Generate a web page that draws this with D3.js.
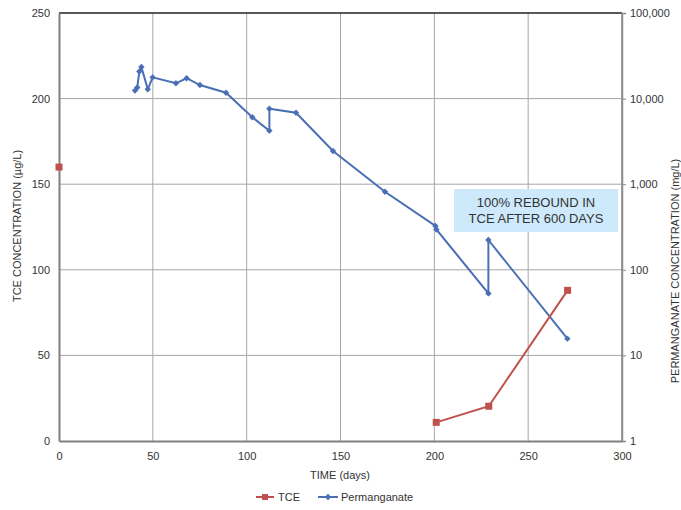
<!DOCTYPE html>
<html>
<head>
<meta charset="utf-8">
<script src="https://cdn.jsdelivr.net/npm/d3@7"></script>
<style>
  body { margin: 0; background: #fff; }
  svg text { font-family: "Liberation Sans", Arial, sans-serif; fill: #333; }
</style>
</head>
<body>
<svg id="chart" width="681" height="510"></svg>
<script>
// TCE series (left axis, ug/L)
var tceDays = [0, 201, 229, 271];
var tceVals = [160, 10.9, 20.3, 88];

// Permanganate series (right axis, mg/L, log)
var kmnDays = [40.5, 41.7, 42.8, 43.9, 47.3, 49.9, 62.3, 68, 75.1, 89, 103, 112.1, 112.1, 126.3, 146, 173.7, 200.6, 201.1, 228.8, 228.8, 270.9];
var kmnVals = [12400, 13500, 20700, 23400, 12850, 17700, 15100, 17300, 14400, 11700, 6050, 4220, 7620, 6840, 2440, 817, 325, 296, 53, 223, 15.7];

var xTicks = [0, 50, 100, 150, 200, 250, 300];
var leftTicks = [0, 50, 100, 150, 200, 250];
var rightTicks = [1, 10, 100, 1000, 10000, 100000];

var tceColor = "#c0504d", kmnColor = "#4a6fb5";

var svg = d3.select("#chart");
// note: "top" is taken by window.top, so plot edges get their own names
var pL = 59, pR = 622, pT = 13, pB = 441;

var x = d3.scaleLinear().domain([0, 300]).range([pL, pR]);
var yL = d3.scaleLinear().domain([0, 250]).range([pB, pT]);
var yR = d3.scaleLog().domain([1, 100000]).range([pB, pT]);

// grid
var grid = svg.append("g");
grid.selectAll("line.v").data(xTicks.slice(1, -1)).enter().append("line")
    .attr("x1", function(d) { return x(d); }).attr("x2", function(d) { return x(d); })
    .attr("y1", pT).attr("y2", pB)
    .attr("stroke", "#a6a6a6").attr("stroke-width", 1);
grid.selectAll("line.h").data(leftTicks.slice(1, -1)).enter().append("line")
    .attr("x1", pL).attr("x2", pR)
    .attr("y1", function(d) { return yL(d); }).attr("y2", function(d) { return yL(d); })
    .attr("stroke", "#a6a6a6").attr("stroke-width", 1);

// frame
svg.append("line").attr("x1", pL).attr("x2", pR).attr("y1", pT).attr("y2", pT)
    .attr("stroke", "#222").attr("stroke-width", 1.5);
svg.append("line").attr("x1", pR).attr("x2", pR).attr("y1", pT).attr("y2", pB)
    .attr("stroke", "#8a8a8a").attr("stroke-width", 1.5);

// axes
var xAxis = svg.append("g").attr("transform", "translate(0," + pB + ")")
    .call(d3.axisBottom(x).tickValues(xTicks).tickSize(0).tickPadding(11));
var lAxis = svg.append("g").attr("transform", "translate(" + pL + ",0)")
    .call(d3.axisLeft(yL).tickValues(leftTicks).tickSize(0).tickPadding(9));
var rAxis = svg.append("g").attr("transform", "translate(" + pR + ",0)")
    .call(d3.axisRight(yR).tickValues(rightTicks).tickSize(4).tickPadding(4)
        .tickFormat(d3.format(",")));
[xAxis, lAxis, rAxis].forEach(function(a) {
    a.select(".domain").attr("stroke", "#808080").attr("stroke-width", 2);
    a.selectAll(".tick line").attr("stroke", "#8a8a8a");
    a.selectAll("text").attr("font-size", 11).attr("fill", "#333")
        .style("font-family", "'Liberation Sans', Arial, sans-serif");
});
rAxis.select(".domain").attr("stroke", "#8a8a8a").attr("stroke-width", 1.5);

// axis titles
svg.append("text").attr("x", 340).attr("y", 479).attr("text-anchor", "middle")
    .attr("font-size", 11).text("TIME (days)");
svg.append("text").attr("transform", "translate(21,226) rotate(-90)")
    .attr("text-anchor", "middle").attr("font-size", 11).text("TCE CONCENTRATION (\u00b5g/L)");
svg.append("text").attr("transform", "translate(679,271) rotate(-90)")
    .attr("text-anchor", "middle").attr("font-size", 11).text("PERMANGANATE CONCENTRATION (mg/L)");

// annotation box
svg.append("rect").attr("x", 454).attr("y", 189).attr("width", 164).attr("height", 43)
    .attr("fill", "#cde9fb");
svg.append("text").attr("x", 536).attr("y", 207).attr("text-anchor", "middle")
    .attr("font-size", 13).attr("fill", "#222").text("100% REBOUND IN");
svg.append("text").attr("x", 536).attr("y", 223).attr("text-anchor", "middle")
    .attr("font-size", 13).attr("fill", "#222").text("TCE AFTER 600 DAYS");

// permanganate series
var kmn = kmnDays.map(function(d, i) { return [d, kmnVals[i]]; });
var kmnLine = d3.line().x(function(d) { return x(d[0]); }).y(function(d) { return yR(d[1]); });
svg.append("path").datum(kmn).attr("d", kmnLine)
    .attr("fill", "none").attr("stroke", kmnColor).attr("stroke-width", 2);
var diamond = d3.symbol().type(d3.symbolDiamond2).size(26);
svg.selectAll("path.kmn").data(kmn).enter().append("path")
    .attr("d", diamond)
    .attr("transform", function(d) { return "translate(" + x(d[0]) + "," + yR(d[1]) + ")"; })
    .attr("fill", kmnColor);

// TCE series
var tce = tceDays.map(function(d, i) { return [d, tceVals[i]]; });
var tceLine = d3.line().x(function(d) { return x(d[0]); }).y(function(d) { return yL(d[1]); });
svg.append("path").datum(tce.slice(1)).attr("d", tceLine)
    .attr("fill", "none").attr("stroke", tceColor).attr("stroke-width", 2);
svg.selectAll("rect.tce").data(tce).enter().append("rect")
    .attr("x", function(d) { return x(d[0]) - 3.5; })
    .attr("y", function(d) { return yL(d[1]) - 3.5; })
    .attr("width", 7).attr("height", 7).attr("fill", tceColor);

// legend
var lg = svg.append("g").attr("transform", "translate(0,497)");
lg.append("line").attr("x1", 256).attr("x2", 274).attr("stroke", tceColor).attr("stroke-width", 2);
lg.append("rect").attr("x", 262).attr("y", -3).attr("width", 6).attr("height", 6).attr("fill", tceColor);
lg.append("text").attr("x", 278).attr("y", 4).attr("font-size", 11).text("TCE");
lg.append("line").attr("x1", 318).attr("x2", 338).attr("stroke", kmnColor).attr("stroke-width", 2);
lg.append("path").attr("d", diamond).attr("transform", "translate(328,0)").attr("fill", kmnColor);
lg.append("text").attr("x", 341).attr("y", 4).attr("font-size", 11).text("Permanganate");
</script>
</body>
</html>
